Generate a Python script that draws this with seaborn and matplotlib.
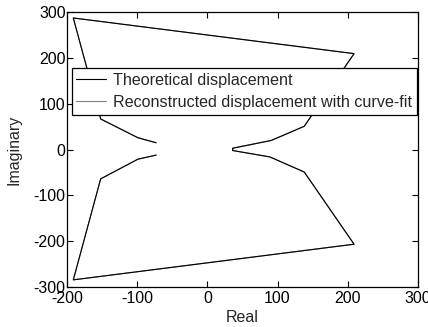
import matplotlib
matplotlib.use("Agg")
import matplotlib.pyplot as plt
import seaborn as sns
import pandas as pd

# Nyquist-style trace (real, imaginary)
theo_real = [-73, -99, -152, -191, 209, 138, 91, 36, 36, 89, 138, 209, -191, -152, -99, -73]
theo_imag = [15, 26, 67, 288, 210, 51, 20, 3, -2, -16, -49, -207, -285, -64, -21, -12]
rec_real = [-73, -99, -152, -191, 209, 138, 91, 36, 36, 89, 138, 209, -191, -152, -99, -73]
rec_imag = [15, 26, 67, 288, 210, 51, 20, 3, -2, -16, -49, -207, -285, -64, -21, -12]

labels = ["Theoretical displacement", "Reconstructed displacement with curve-fit"]
xticks = [-200, -100, 0, 100, 200, 300]
yticks = [-300, -200, -100, 0, 100, 200, 300]

FS = 11.5
sns.set_style("white")
plt.rcParams['font.family'] = ['Liberation Sans', 'DejaVu Sans']
plt.rcParams['font.size'] = FS

fig = plt.figure(figsize=(4.28, 3.27), dpi=100)
ax = fig.add_axes([0.1565, 0.1232, 0.82, 0.8386])

df_t = pd.DataFrame({"x": theo_real, "y": theo_imag})
df_r = pd.DataFrame({"x": rec_real, "y": rec_imag})

sns.lineplot(data=df_r, x="x", y="y", sort=False, estimator=None, ax=ax,
             color="#808080", lw=0.8, label=labels[1])
sns.lineplot(data=df_t, x="x", y="y", sort=False, estimator=None, ax=ax,
             color="black", lw=0.8, label=labels[0])

ax.set_xlim(-200, 300)
ax.set_ylim(-300, 300)
ax.set_xticks(xticks)
ax.set_yticks(yticks)
ax.set_xticklabels([str(t) for t in xticks], fontsize=FS)
ax.set_yticklabels([str(t) for t in yticks], fontsize=FS)
ax.tick_params(direction="in", length=4, width=0.8, top=True, right=True,
               bottom=True, left=True, pad=1, colors="black")
ax.tick_params(axis="x", pad=3)
for s in ax.spines.values():
    s.set_color("black")
    s.set_linewidth(0.9)
ax.set_xlabel("Real", fontsize=FS, labelpad=3)
ax.set_ylabel("Imaginary", fontsize=FS, labelpad=9)

h, l = ax.get_legend_handles_labels()
order = [l.index(labels[0]), l.index(labels[1])]
leg = ax.legend([h[i] for i in order], [l[i] for i in order],
                loc="upper left", bbox_to_anchor=(0.013, 0.797), borderaxespad=0,
                fancybox=False, frameon=True, edgecolor="black", framealpha=1,
                handlelength=1.85, handletextpad=0.42, labelspacing=0.42,
                borderpad=0.3, prop={"size": 11.6})
leg.get_frame().set_linewidth(0.9)

fig.savefig("out.png", dpi=100)
